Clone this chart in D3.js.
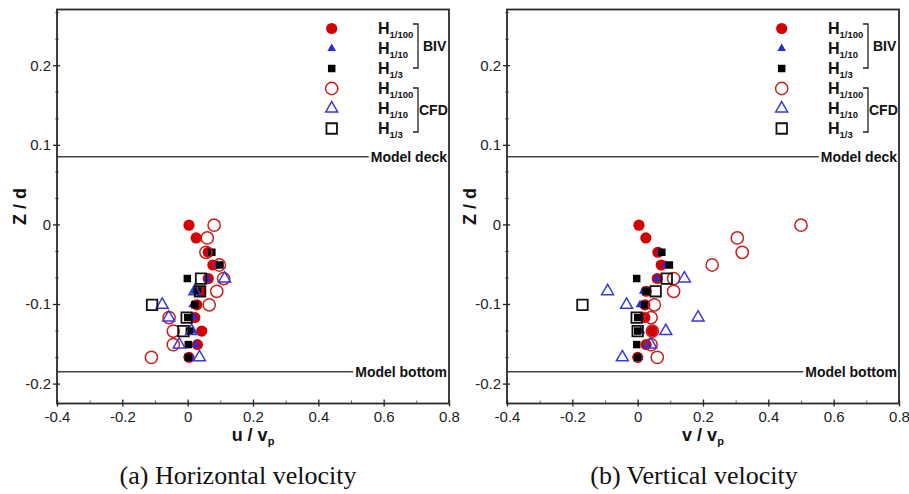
<!DOCTYPE html>
<html><head><meta charset="utf-8">
<script src="https://cdn.jsdelivr.net/npm/d3@7"></script>
<style>body{margin:0;background:#fff}svg{display:block}</style>
</head><body><svg id="c" width="909" height="494"></svg>
<script>
// ---------- data ----------
const zLevels = [-0.001, -0.017, -0.035, -0.051, -0.068, -0.084, -0.101, -0.117, -0.134, -0.151, -0.167];
const xTicks = [-0.4, -0.2, 0, 0.2, 0.4, 0.6, 0.8];
const xTickLabels = ["-0.4", "-0.2", "0", "0.2", "0.4", "0.6", "0.8"];
const xMinorTicks = [-0.3, -0.1, 0.1, 0.3, 0.5, 0.7];
const yTicks = [-0.2, -0.1, 0, 0.1, 0.2];
const yTickLabels = ["-0.2", "-0.1", "0", "0.1", "0.2"];
const yMinorTicks = [-0.1667, -0.1333, -0.0667, -0.0333, 0.0333, 0.0667, 0.1333, 0.1667, 0.2333, 0.2667];
const refZ = [0.085, -0.185];
const refLabels = ["Model deck", "Model bottom"];
const legendSubs = ["1/100", "1/10", "1/3", "1/100", "1/10", "1/3"];
const groupLabels = ["BIV", "CFD"];
const captions = ["(a) Horizontal velocity", "(b) Vertical velocity"];
const axisVars = ["u", "v"];

// horizontal velocity u / v_p
const u_BIV_H100 = [0.004, 0.026, 0.063, 0.077, 0.063, 0.040, 0.028, 0.022, 0.043, 0.030, 0.004];
const u_BIV_H10  = [null, null, 0.070, 0.090, 0.060, 0.020, 0.015, 0.020, 0.017, 0.025, 0.010];
const u_BIV_H3   = [null, null, 0.074, 0.099, -0.001, 0.030, 0.022, 0.000, 0.005, 0.002, 0.002];
const u_CFD_H100 = [0.081, 0.060, 0.056, 0.097, 0.110, 0.089, 0.066, -0.057, -0.044, -0.044, -0.111];
const u_CFD_H10  = [null, null, null, null, 0.113, 0.022, -0.078, -0.058, 0.012, -0.026, 0.036];
const u_CFD_H3   = [null, null, null, null, 0.041, 0.038, -0.109, -0.003, -0.013, null, null];
// vertical velocity v / v_p
const v_BIV_H100 = [0.004, 0.025, 0.062, 0.072, 0.060, 0.026, 0.022, 0.022, 0.045, 0.026, 0.000];
const v_BIV_H10  = [null, null, 0.068, 0.085, 0.058, 0.017, 0.007, 0.010, 0.010, 0.026, 0.005];
const v_BIV_H3   = [null, null, 0.074, 0.097, -0.003, 0.026, 0.022, 0.000, 0.000, -0.003, 0.000];
const v_CFD_H100 = [0.500, 0.305, 0.320, 0.228, 0.110, 0.110, 0.051, 0.041, 0.045, 0.041, 0.060];
const v_CFD_H10  = [null, null, null, null, 0.143, -0.092, -0.034, 0.185, 0.086, 0.040, -0.047];
const v_CFD_H3   = [null, null, null, null, 0.089, 0.055, -0.169, -0.003, 0.000, null, null];

// ---------- styles ----------
const styles = [
  {type: d3.symbolCircle,   size: 98,  fill: "#d40000", stroke: "none",    sw: 0},
  {type: d3.symbolTriangle, size: 32,  fill: "#2b2bd2", stroke: "none",    sw: 0},
  {type: d3.symbolSquare,   size: 56,  fill: "#000",    stroke: "none",    sw: 0},
  {type: d3.symbolCircle,   size: 118, fill: "none",    stroke: "#cc1f1f", sw: 1.5},
  {type: d3.symbolTriangle, size: 62,  fill: "none",    stroke: "#3a3ad6", sw: 1.5},
  {type: d3.symbolSquare,   size: 110, fill: "none",    stroke: "#111",    sw: 1.8}
];
const panelData = [
  [u_BIV_H100, u_BIV_H10, u_BIV_H3, u_CFD_H100, u_CFD_H10, u_CFD_H3],
  [v_BIV_H100, v_BIV_H10, v_BIV_H3, v_CFD_H100, v_CFD_H10, v_CFD_H3]
];

const FONT = "'Liberation Sans', Arial, Helvetica, sans-serif";
const svg = d3.select("#c");
const yTop = 9.5, yBot = 403.5;
const panels = [{x0: 57, x1: 449}, {x0: 507, x1: 899}];

panels.forEach((p, pi) => {
  const x = d3.scaleLinear().domain([-0.4, 0.8]).range([p.x0, p.x1]);
  const y = d3.scaleLinear().domain([-0.225, 0.27]).range([yBot, yTop]);
  const g = svg.append("g");

  // reference lines + labels
  refZ.forEach((z, i) => {
    const t = g.append("text")
      .attr("x", p.x1 - 2).attr("y", y(z)).attr("dy", "0.36em")
      .attr("text-anchor", "end")
      .style("font", `bold 14px ${FONT}`).attr("fill", "#111")
      .text(refLabels[i]);
    const tw = t.node().getComputedTextLength();
    g.append("line")
      .attr("x1", p.x0).attr("x2", p.x1 - 2 - tw - 2)
      .attr("y1", y(z)).attr("y2", y(z))
      .attr("stroke", "#444").attr("stroke-width", 1.5);
  });

  // axes
  const xa = g.append("g").attr("transform", `translate(0,${yBot})`)
    .call(d3.axisBottom(x).tickValues(xTicks).tickFormat((d, i) => xTickLabels[i]).tickSize(3));
  xa.select(".domain").remove();
  xa.selectAll(".tick line").attr("y1", -4).attr("stroke", "#222").attr("stroke-width", 1.3);
  xa.selectAll(".tick text").attr("y", 18).attr("dy", 0)
    .style("font", `15px ${FONT}`).attr("fill", "#222");
  const xm = g.append("g").attr("transform", `translate(0,${yBot})`)
    .call(d3.axisBottom(x).tickValues(xMinorTicks).tickFormat("").tickSize(0));
  xm.select(".domain").remove();
  xm.selectAll(".tick line").attr("y1", -3).attr("y2", 0).attr("stroke", "#666");

  const ya = g.append("g").attr("transform", `translate(${p.x0},0)`)
    .call(d3.axisLeft(y).tickValues(yTicks).tickFormat((d, i) => yTickLabels[i]).tickSize(4).tickPadding(2));
  ya.select(".domain").remove();
  ya.selectAll(".tick line").attr("x1", 3).attr("stroke", "#222").attr("stroke-width", 1.3);
  ya.selectAll(".tick text").style("font", `15px ${FONT}`).attr("fill", "#222");
  const ym = g.append("g").attr("transform", `translate(${p.x0},0)`)
    .call(d3.axisLeft(y).tickValues(yMinorTicks.filter(v => v < 0.268 && v > -0.225)).tickFormat("").tickSize(2));
  ym.select(".domain").remove();
  ym.selectAll(".tick line").attr("x1", 2).attr("stroke", "#777");

  // frame
  g.append("rect").attr("x", p.x0).attr("y", yTop)
    .attr("width", p.x1 - p.x0).attr("height", yBot - yTop)
    .attr("fill", "none").attr("stroke", "#2a2a2a").attr("stroke-width", 1.8);

  // data
  panelData[pi].forEach((vals, si) => {
    const s = styles[si];
    const pts = vals.map((v, k) => ({v, z: zLevels[k]})).filter(d => d.v !== null);
    g.append("g").selectAll("path").data(pts).join("path")
      .attr("transform", d => `translate(${x(d.v)},${y(d.z)})`)
      .attr("d", d3.symbol().type(s.type).size(s.size))
      .attr("fill", s.fill).attr("stroke", s.stroke).attr("stroke-width", s.sw);
  });

  // legend
  const lg = g.append("g");
  styles.forEach((s, i) => {
    const ry = 28.5 + i * 20;
    lg.append("path")
      .attr("transform", `translate(${p.x1 - 117.3},${ry})`)
      .attr("d", d3.symbol().type(s.type).size(s.size))
      .attr("fill", s.fill).attr("stroke", s.stroke).attr("stroke-width", s.sw);
    const t = lg.append("text").attr("x", p.x1 - 71).attr("y", ry + 5.5)
      .style("font", `bold 16px ${FONT}`).attr("fill", "#111");
    t.append("tspan").text("H");
    t.append("tspan").attr("dy", 3.5).style("font-size", "9.5px").text(legendSubs[i]);
  });
  groupLabels.forEach((lab, gi) => {
    const ya0 = gi === 0 ? 24 : 88, ya1 = gi === 0 ? 68 : 132;
    const bx = p.x1 - 31;
    lg.append("path")
      .attr("d", `M${bx - 5},${ya0}H${bx}V${ya1}H${bx - 5}`)
      .attr("fill", "none").attr("stroke", "#222").attr("stroke-width", 1.3);
    lg.append("text").attr("x", gi === 0 ? p.x1 - 26 : p.x1 - 30).attr("y", (ya0 + ya1) / 2 + 5)
      .style("font", `bold 14px ${FONT}`).attr("fill", "#111").text(lab);
  });

  // axis titles
  const cx = (p.x0 + p.x1) / 2;
  const xt = g.append("text").attr("x", cx).attr("y", 440.5).attr("text-anchor", "middle")
    .style("font", `bold 18px ${FONT}`).attr("fill", "#111");
  xt.append("tspan").text(axisVars[pi] + " / v");
  xt.append("tspan").attr("dy", 4).style("font-size", "11px").text("p");

  g.append("text").attr("transform", `translate(${p.x0 - 31},${(yTop + yBot) / 2}) rotate(-90)`)
    .attr("text-anchor", "middle")
    .style("font", `bold 18px ${FONT}`).attr("fill", "#111").text("Z / d");

  // caption
  g.append("text").attr("x", pi === 0 ? 238 : 694).attr("y", 484).attr("text-anchor", "middle")
    .style("font", `26px 'Liberation Serif', 'Times New Roman', serif`).attr("fill", "#111")
    .text(captions[pi]);
});
</script></body></html>
